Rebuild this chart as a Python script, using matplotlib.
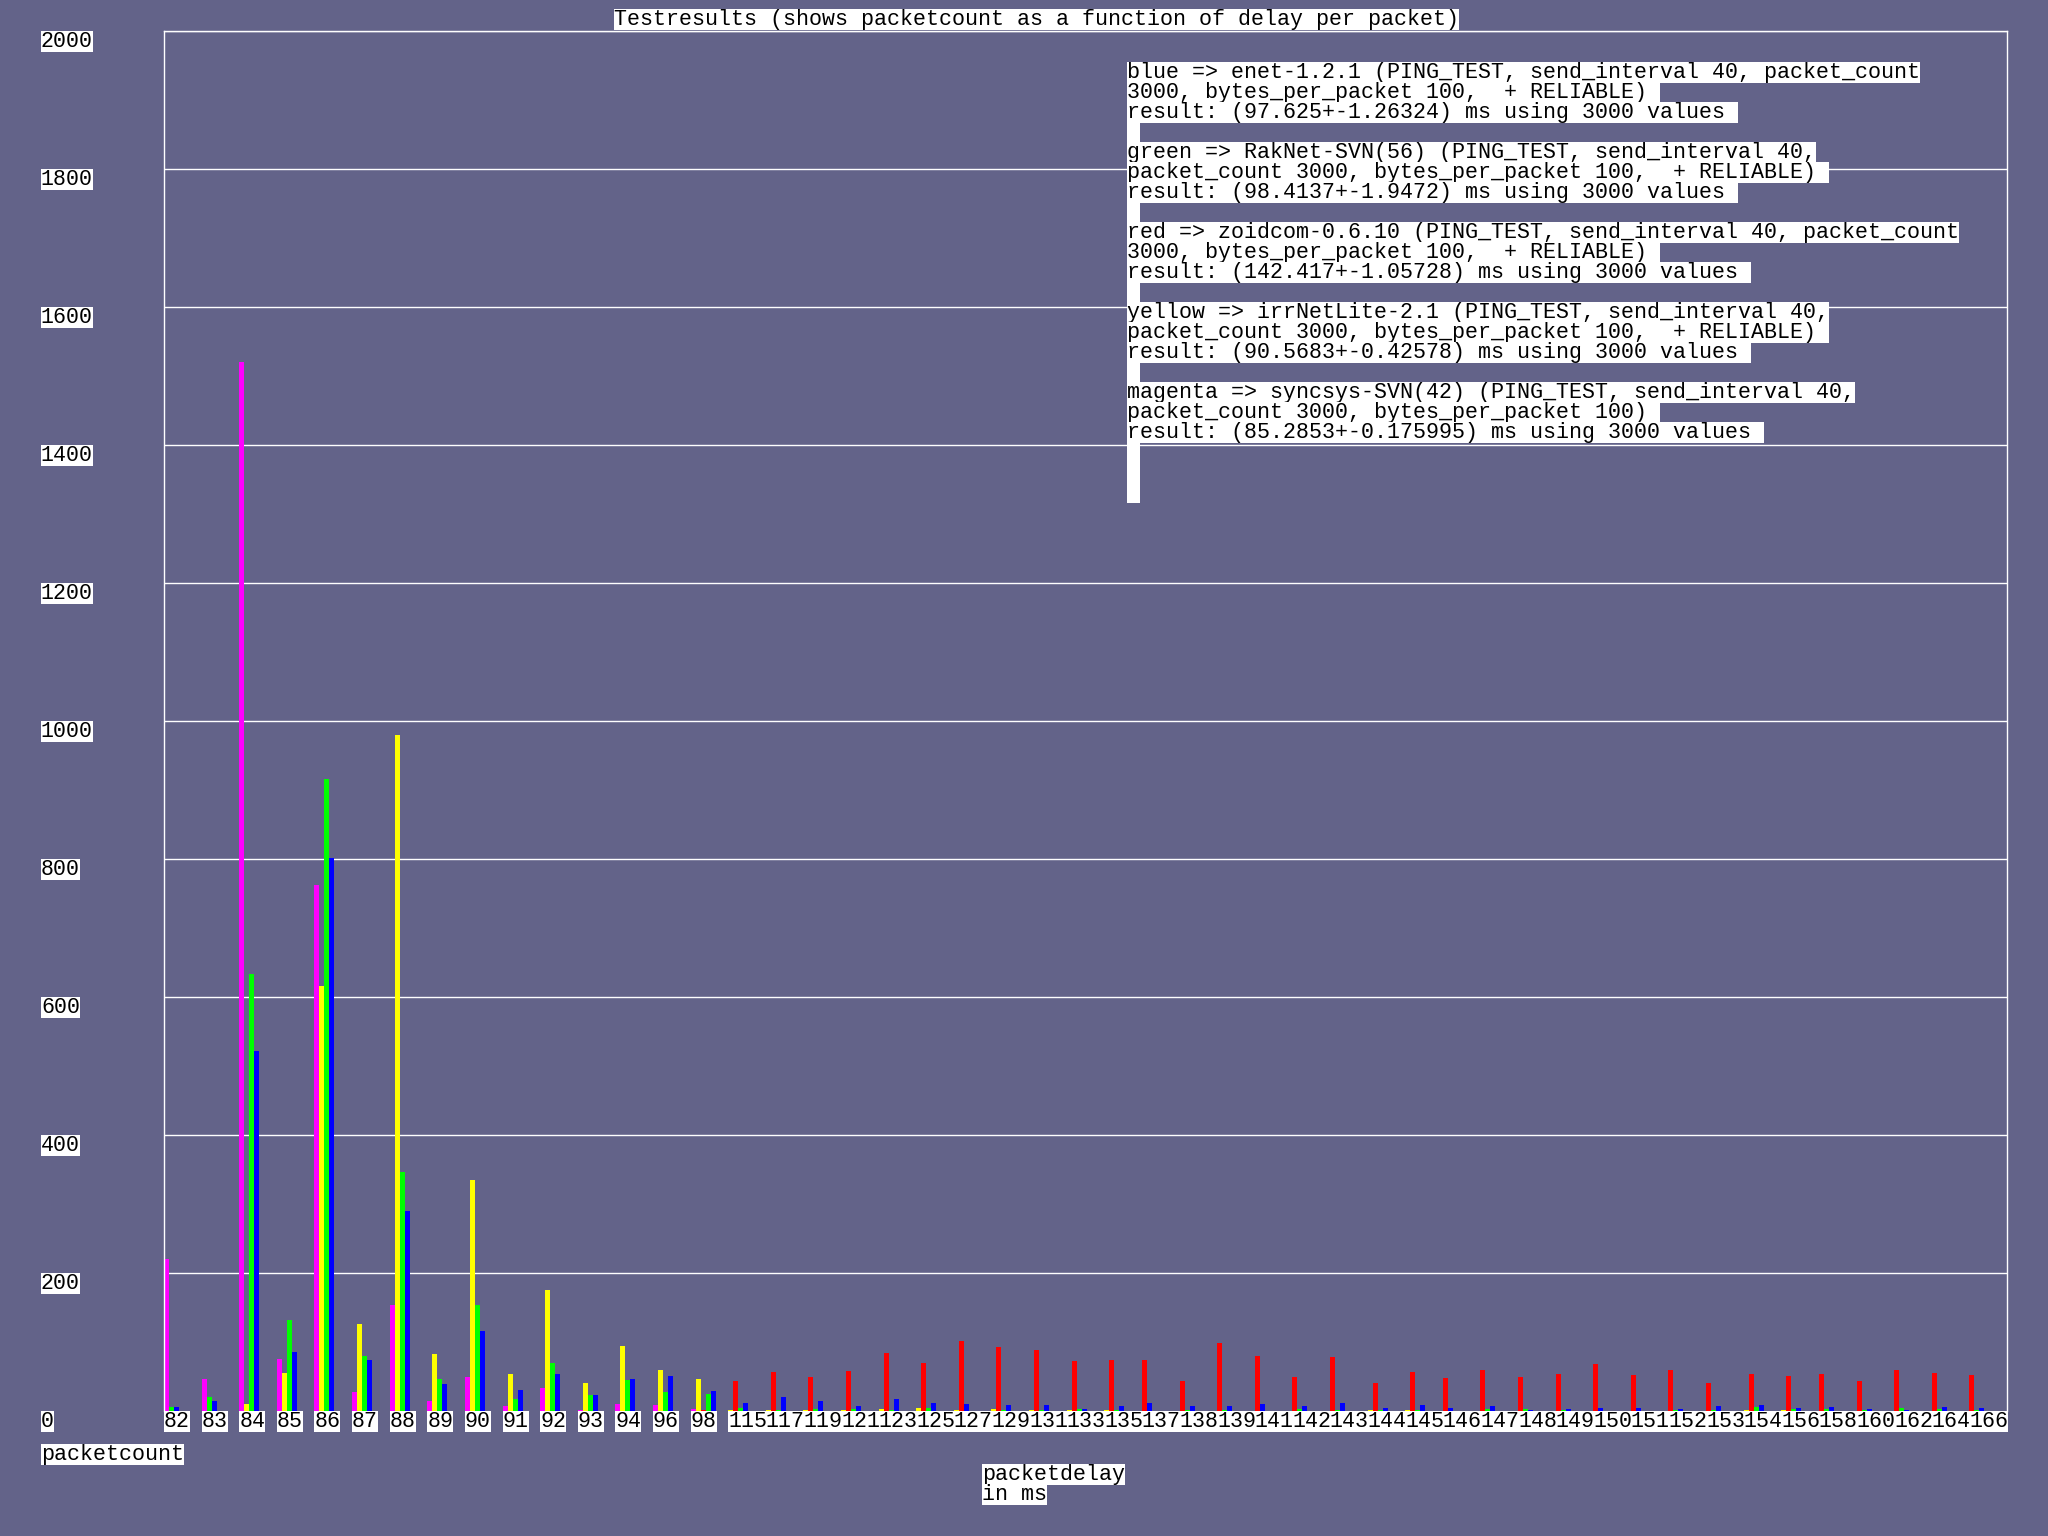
import numpy as np
import matplotlib.pyplot as plt
from matplotlib import transforms

# packet delay (ms) categories on the x axis
delays = [82, 83, 84, 85, 86, 87, 88, 89, 90, 91, 92, 93, 94, 96, 98,
          115, 117, 119, 121, 123, 125, 127, 129, 131, 133, 135, 137, 138, 139,
          141, 142, 143, 144, 145, 146, 147, 148, 149, 150, 151, 152, 153, 154,
          156, 158, 160, 162, 164, 166]

# packet counts per library
magenta = [221, 46, 1521, 75, 762, 28, 153, 14, 49, 7, 34, 2, 10, 8, 3,
           0, 0, 0, 0, 0, 0, 0, 0, 0, 0, 0, 0, 0, 0,
           0, 0, 0, 0, 0, 0, 0, 0, 0, 0, 0, 0, 0, 0,
           0, 0, 0, 0, 0, 0]
yellow = [0, 0, 10, 55, 616, 126, 980, 82, 335, 53, 175, 41, 94, 60, 46,
          2, 2, 2, 2, 3, 4, 2, 3, 2, 2, 2, 0, 0, 0,
          0, 0, 0, 2, 2, 0, 0, 0, 0, 0, 0, 0, 0, 2,
          2, 0, 0, 0, 0, 0]
red = [0, 0, 0, 0, 0, 0, 0, 0, 0, 0, 0, 0, 0, 0, 2,
       44, 56, 49, 58, 84, 70, 101, 93, 88, 72, 74, 74, 43, 99,
       80, 49, 78, 41, 57, 48, 59, 49, 54, 68, 52, 59, 41, 54,
       51, 54, 43, 59, 55, 52]
green = [6, 21, 633, 132, 916, 79, 346, 46, 154, 18, 69, 23, 45, 27, 25,
         4, 2, 3, 3, 2, 4, 0, 2, 2, 3, 2, 0, 2, 2,
         0, 3, 2, 2, 2, 0, 3, 3, 2, 0, 0, 2, 2, 6,
         3, 3, 2, 4, 3, 2]
blue = [6, 14, 522, 85, 801, 74, 290, 39, 116, 30, 53, 23, 46, 51, 29,
        11, 20, 14, 7, 17, 12, 10, 9, 9, 3, 7, 12, 7, 7,
        10, 7, 12, 4, 9, 4, 7, 2, 3, 4, 4, 3, 7, 9,
        4, 6, 3, 2, 6, 4]

legend_lines = [
    "blue => enet-1.2.1 (PING_TEST, send_interval 40, packet_count",
    "3000, bytes_per_packet 100,  + RELIABLE) ",
    "result: (97.625+-1.26324) ms using 3000 values ",
    " ",
    "green => RakNet-SVN(56) (PING_TEST, send_interval 40,",
    "packet_count 3000, bytes_per_packet 100,  + RELIABLE) ",
    "result: (98.4137+-1.9472) ms using 3000 values ",
    " ",
    "red => zoidcom-0.6.10 (PING_TEST, send_interval 40, packet_count",
    "3000, bytes_per_packet 100,  + RELIABLE) ",
    "result: (142.417+-1.05728) ms using 3000 values ",
    " ",
    "yellow => irrNetLite-2.1 (PING_TEST, send_interval 40,",
    "packet_count 3000, bytes_per_packet 100,  + RELIABLE) ",
    "result: (90.5683+-0.42578) ms using 3000 values ",
    " ",
    "magenta => syncsys-SVN(42) (PING_TEST, send_interval 40,",
    "packet_count 3000, bytes_per_packet 100) ",
    "result: (85.2853+-0.175995) ms using 3000 values ",
    " ",
    " ",
    " ",
]

bg = '#636389'
W, H = 2048, 1536
fnt = dict(family='Liberation Mono', size=15.6, color='black')
box = dict(facecolor='white', edgecolor='none', pad=0)

fig = plt.figure(figsize=(W / 100, H / 100), dpi=100, facecolor=bg)
ax = fig.add_axes([164 / W, 1 - 1411 / H, (2007 - 164) / W, (1411 - 31) / H])
ax.set_facecolor(bg)

n = len(delays)
bw = 5 / 37.6
series = [(magenta, '#ff00ff'), (yellow, '#ffff00'), (red, '#ff0000'),
          (green, '#00ff00'), (blue, '#0000ff')]

# zero bars take no slot: the remaining bars are packed from the group start
slot = np.zeros(n)
for vals, col in series:
    vals = np.array(vals)
    pos = np.arange(n) + slot * bw
    mask = vals > 0
    ax.bar(pos[mask], vals[mask], width=bw, align='edge', color=col, linewidth=0, zorder=2)
    slot = slot + mask

ax.set_xlim(0, n)
ax.set_ylim(0, 2000)
ax.set_yticks(range(200, 2001, 200))
ax.grid(axis='y', color='white', linewidth=1)
ax.set_axisbelow(True)
ax.tick_params(left=False, bottom=False, labelleft=False, labelbottom=False)
for s in ['left', 'right', 'top']:
    ax.spines[s].set_color('white')
    ax.spines[s].set_linewidth(1)
ax.spines['bottom'].set_visible(False)

# y labels hang below their grid line
ytr = transforms.blended_transform_factory(fig.transFigure, ax.transData)
for v in range(0, 2001, 200):
    ax.text(41 / W, v, str(v), transform=ytr, va='top', ha='left', bbox=box, **fnt)

for i, d in enumerate(delays):
    ax.text(i, 0, str(d), va='top', ha='left', bbox=box, clip_on=False, **fnt)

fig.text(614 / W, 1 - 9 / H, "Testresults (shows packetcount as a function of delay per packet)",
         va='top', ha='left', bbox=box, **fnt)
fig.text(41 / W, 1 - 1444 / H, "packetcount", va='top', ha='left', bbox=box, **fnt)
fig.text(982 / W, 1 - 1464 / H, "packetdelay", va='top', ha='left', bbox=box, **fnt)
fig.text(982 / W, 1 - 1484 / H, "in ms", va='top', ha='left', bbox=box, **fnt)

for k, line in enumerate(legend_lines):
    fig.text(1127 / W, 1 - (62 + 20 * k) / H, line, va='top', ha='left', bbox=box, **fnt)

fig.savefig('out.png', dpi=100, facecolor=bg)
